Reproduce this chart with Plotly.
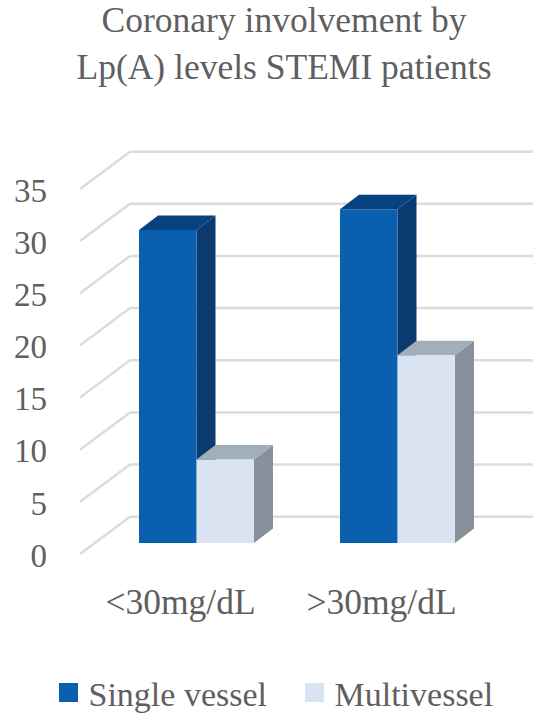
import plotly.graph_objects as go

categories = ["<30mg/dL", ">30mg/dL"]
single_vessel = [30, 32]
multivessel = [8, 18]
tick_values = [0, 5, 10, 15, 20, 25, 30, 35]

FONT = "Liberation Serif"
TXT = "#5f5f5f"
C_S = dict(front="#0B5FAF", side="#0A3A70", top="#07427F")
C_M = dict(front="#D9E3F2", side="#87919C", top="#A3AEBB")
GRID = "#DCDCDC"

# layout geometry (plot area in px and scale)
W, H = 550, 721
L, R, T, B = 48, 538, 100, 577
PX_X = 201.0   # px per category
PX_Y = 10.43   # px per value unit
X0, Y0 = 196.5, 543.0  # px of category 0 centre / value 0

BAR_W = 57.5 / PX_X
DX = 19 / PX_X
DY = 14.5 / PX_Y
FLOOR_FRONT = -11 / PX_Y
WALL_Y = 26.3 / PX_Y
GRID_X0 = (80 - X0) / PX_X
GRID_X1 = (130 - X0) / PX_X
GRID_X2 = (533 - X0) / PX_X
LABEL_SHIFT = -16 / PX_X
TICK_SHIFT = -1.2 / PX_Y


def poly(pts, color):
    path = "M" + "L".join(f"{x},{y}" for x, y in pts) + "Z"
    return dict(type="path", path=path, fillcolor=color, line=dict(width=0),
                xref="x", yref="y", layer="below")


shapes = []
for t in tick_values:
    shapes.append(dict(
        type="line", xref="x", yref="y", layer="below",
        x0=GRID_X0, y0=t + FLOOR_FRONT, x1=GRID_X1, y1=t + WALL_Y,
        line=dict(color=GRID, width=2.5)))
    shapes.append(dict(
        type="line", xref="x", yref="y", layer="below",
        x0=GRID_X1, y0=t + WALL_Y, x1=GRID_X2, y1=t + WALL_Y,
        line=dict(color=GRID, width=2.5)))

for i in range(len(categories)):
    for vals, colors, left in ((single_vessel, C_S, i - BAR_W), (multivessel, C_M, i)):
        v = vals[i]
        right = left + BAR_W
        shapes.append(poly([(right, 0), (right + DX, DY), (right + DX, v + DY), (right, v)], colors["side"]))
        shapes.append(poly([(left, v), (left + DX, v + DY), (right + DX, v + DY), (right, v)], colors["top"]))

fig = go.Figure()
xs = list(range(len(categories)))
fig.add_bar(x=[x - BAR_W / 2 for x in xs], y=single_vessel, width=BAR_W,
            marker=dict(color=C_S["front"], line=dict(width=0)), showlegend=False, name="Single vessel")
fig.add_bar(x=[x + BAR_W / 2 for x in xs], y=multivessel, width=BAR_W,
            marker=dict(color=C_M["front"], line=dict(width=0)), showlegend=False, name="Multivessel")
for name, c in (("Single vessel", C_S), ("Multivessel", C_M)):
    fig.add_scatter(x=[None], y=[None], mode="markers", name=name,
                    marker=dict(symbol="square", size=16, color=c["front"],
                                line=dict(color=c["front"], width=3)))

fig.update_layout(
    width=W, height=H, autosize=False, barmode="overlay",
    margin=dict(l=L, r=W - R, t=T, b=H - B, pad=0),
    paper_bgcolor="white", plot_bgcolor="white",
    font=dict(family=FONT, color=TXT, size=34),
    title=dict(text="Coronary involvement by<br>Lp(A) levels STEMI patients",
               x=284 / W, xanchor="center", xref="container", y=0.955, yanchor="top",
               font=dict(family=FONT, size=35.5, color=TXT)),
    shapes=shapes,
    xaxis=dict(range=[(L - X0) / PX_X, (R - X0) / PX_X], showgrid=False, zeroline=False,
               showline=False, tickmode="array",
               tickvals=[x + LABEL_SHIFT for x in xs], ticktext=categories,
               tickfont=dict(size=35.5), ticks=""),
    yaxis=dict(range=[(Y0 - B) / PX_Y, (Y0 - T) / PX_Y], showgrid=False, zeroline=False,
               showline=False, tickmode="array",
               tickvals=[t + FLOOR_FRONT + TICK_SHIFT for t in tick_values],
               ticktext=[str(t) for t in tick_values],
               tickfont=dict(size=33), ticks=""),
    legend=dict(orientation="h", x=48.5 / W, xanchor="left", xref="container",
                y=1 - 693 / H, yanchor="middle", yref="container",
                entrywidth=201, entrywidthmode="pixels",
                font=dict(size=34), bgcolor="rgba(0,0,0,0)"),
)
fig.write_html("out.html", config=dict(displayModeBar=False),
               post_script="document.body.style.margin='0';")
